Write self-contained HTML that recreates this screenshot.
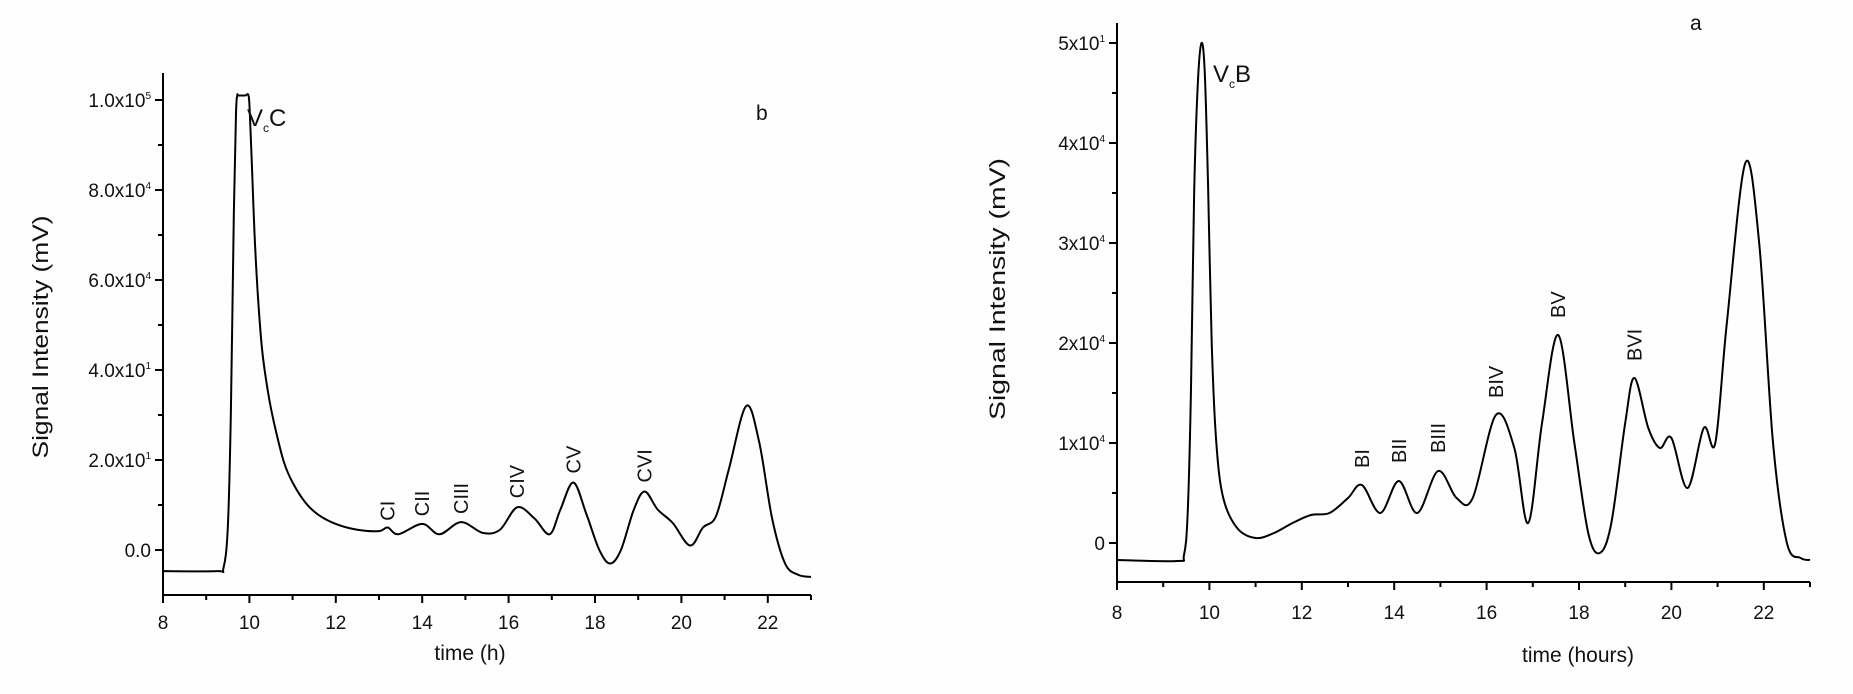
<!DOCTYPE html>
<html><head><meta charset="utf-8"><style>
html,body{margin:0;padding:0;background:#fff;}
svg{display:block;font-family:"Liberation Sans",Arial,sans-serif;}
</style></head><body>
<svg id="s" width="1853" height="694" viewBox="0 0 1853 694" xmlns="http://www.w3.org/2000/svg">
<rect width="1853" height="694" fill="#fefefe"/>
<g id="g" stroke="#000" fill="none" stroke-width="2"></g>
<g fill="#111" font-size="19">
<text x="756" y="120" font-size="21">b</text>
<text x="1690" y="30" font-size="21">a</text>
<text x="470" y="660" text-anchor="middle" font-size="21">time (h)</text>
<text x="1578" y="662" text-anchor="middle" font-size="21">time (hours)</text>
<text transform="translate(48,337) rotate(-90)" text-anchor="middle" font-size="22" textLength="243" lengthAdjust="spacingAndGlyphs">Signal Intensity (mV)</text>
<text transform="translate(1005,289) rotate(-90)" text-anchor="middle" font-size="22" textLength="262" lengthAdjust="spacingAndGlyphs">Signal Intensity (mV)</text>
<text x="247" y="126" font-size="24">V<tspan font-size="12" dy="6">c</tspan><tspan dy="-6">C</tspan></text>
<text x="1213" y="82" font-size="24">V<tspan font-size="12" dy="6">c</tspan><tspan dy="-6">B</tspan></text>
</g>
<g id="lab" fill="#111" font-size="20"></g>
</svg>
<script>
var g=document.getElementById('g'),lab=document.getElementById('lab'),NS="http://www.w3.org/2000/svg";
function el(t,a,p){var e=document.createElementNS(NS,t);for(var k in a)e.setAttribute(k,a[k]);(p||g).appendChild(e);return e;}
function path(pts,X,Y){var P=pts.map(function(p){return[X(p[0]),Y(p[1])]});var d="M"+P[0][0]+","+P[0][1];
for(var i=0;i<P.length-1;i++){var p0=P[i-1]||P[i],p1=P[i],p2=P[i+1],p3=P[i+2]||P[i+1];
var c1=[p1[0]+(p2[0]-p0[0])/6,p1[1]+(p2[1]-p0[1])/6],c2=[p2[0]-(p3[0]-p1[0])/6,p2[1]-(p3[1]-p1[1])/6];
d+=" C"+c1+" "+c2+" "+p2;}el('path',{d:d});}
function txt(x,y,s,a,p){var t=el('text',a||{},p||lab);t.setAttribute('x',x);t.setAttribute('y',y);t.innerHTML=s;return t;}
function rot(x,y,s){var t=el('text',{transform:"translate("+x+","+y+") rotate(-90)"},lab);t.textContent=s;}
function sup(a,b){return a+"x10<tspan dy='-8' font-size='10'>"+b+"</tspan>";}
// LEFT
(function(){var x0=163,ux=43.2,y0=550,uy=45;var X=function(t){return x0+(t-8)*ux},Y=function(v){return y0-v*uy};
el('line',{x1:x0,y1:73,x2:x0,y2:596});el('line',{x1:x0-1,y1:595,x2:X(23),y2:595});
for(var t=8;t<=23;t++){var L=(t%2==0)?8:5;el('line',{x1:X(t),y1:595,x2:X(t),y2:595+L});if(t%2==0)txt(X(t),629,t,{"text-anchor":"middle","font-size":"19"});}
for(var v=0;v<=10;v++){var L=(v%2==0)?8:5;el('line',{x1:x0,y1:Y(v),x2:x0-L,y2:Y(v)});}
var yl=["0.0",sup("2.0",1),sup("4.0",1),sup("6.0",4),sup("8.0",4),sup("1.0",5)];
for(var i=0;i<6;i++)txt(x0-12,Y(i*2)+7,yl[i],{"text-anchor":"end","font-size":"19"});
path([[8,-0.47],[9.25,-0.47],[9.4,-0.4],[9.5,0.5],[9.57,3],[9.64,7.5],[9.69,9.7],[9.72,10.1],[9.74,10.1],[9.9,10.1],[9.98,10.1],[10.01,9.7],[10.06,8.5],[10.12,7],[10.2,5.6],[10.3,4.4],[10.45,3.4],[10.6,2.7],[10.8,1.95],[11,1.5],[11.3,1.05],[11.6,0.78],[12,0.58],[12.5,0.45],[13,0.42],[13.2,0.5],[13.45,0.35],[14,0.58],[14.4,0.35],[14.9,0.62],[15.4,0.38],[15.8,0.45],[16.2,0.95],[16.6,0.7],[16.95,0.35],[17.2,0.9],[17.5,1.5],[17.8,0.8],[18.1,0],[18.35,-0.3],[18.6,0],[18.9,0.9],[19.15,1.3],[19.45,0.9],[19.8,0.6],[20.2,0.1],[20.5,0.5],[20.8,0.75],[21.1,1.8],[21.5,3.2],[21.8,2.4],[22.1,0.7],[22.4,-0.3],[22.7,-0.55],[23,-0.6]],X,Y);
rot(X(13.2)+7,Y(0.65),"CI");rot(X(14)+7,Y(0.75),"CII");rot(X(14.9)+7,Y(0.8),"CIII");rot(X(16.2)+7,Y(1.15),"CIV");rot(X(17.5)+7,Y(1.7),"CV");rot(X(19.15)+7,Y(1.5),"CVI");
})();
// RIGHT
(function(){var x0=1117,ux=46.2,y0=543,uy=100;var X=function(t){return x0+(t-8)*ux},Y=function(v){return y0-v*uy};
el('line',{x1:x0,y1:23,x2:x0,y2:583});el('line',{x1:x0-1,y1:582,x2:X(23),y2:582});
for(var t=8;t<=23;t++){var L=(t%2==0)?8:5;el('line',{x1:X(t),y1:582,x2:X(t),y2:582+L});if(t%2==0)txt(X(t),619,t,{"text-anchor":"middle","font-size":"19"});}
for(var v=0;v<=10;v++){var L=(v%2==0)?8:5;el('line',{x1:x0,y1:Y(v/2),x2:x0-L,y2:Y(v/2)});}
var yl=["0",sup("1",4),sup("2",4),sup("3",4),sup("4",4),sup("5",1)];
for(var i=0;i<6;i++)txt(x0-12,Y(i)+7,yl[i],{"text-anchor":"end","font-size":"19"});
path([[8,-0.17],[9.3,-0.18],[9.45,-0.12],[9.53,0.3],[9.6,1.5],[9.67,3.5],[9.75,4.6],[9.83,5.0],[9.9,4.7],[9.97,3.6],[10.05,2.0],[10.15,1.0],[10.3,0.45],[10.6,0.15],[11,0.05],[11.4,0.1],[11.8,0.2],[12.2,0.28],[12.6,0.3],[13,0.45],[13.3,0.58],[13.7,0.3],[14.1,0.62],[14.5,0.3],[14.95,0.72],[15.35,0.45],[15.7,0.45],[16.2,1.28],[16.6,0.95],[16.9,0.2],[17.2,1.2],[17.55,2.08],[17.9,1.0],[18.2,0.1],[18.45,-0.1],[18.7,0.2],[19.0,1.2],[19.2,1.65],[19.5,1.15],[19.75,0.95],[20,1.05],[20.35,0.55],[20.7,1.15],[20.95,1.0],[21.2,2.2],[21.6,3.8],[21.9,3.0],[22.2,1.0],[22.5,0.0],[22.8,-0.15],[23,-0.17]],X,Y);
rot(X(13.3)+7,Y(0.75),"BI");rot(X(14.1)+7,Y(0.8),"BII");rot(X(14.95)+7,Y(0.9),"BIII");rot(X(16.2)+7,Y(1.45),"BIV");rot(X(17.55)+7,Y(2.25),"BV");rot(X(19.2)+7,Y(1.82),"BVI");
})();
</script>
</body></html>
